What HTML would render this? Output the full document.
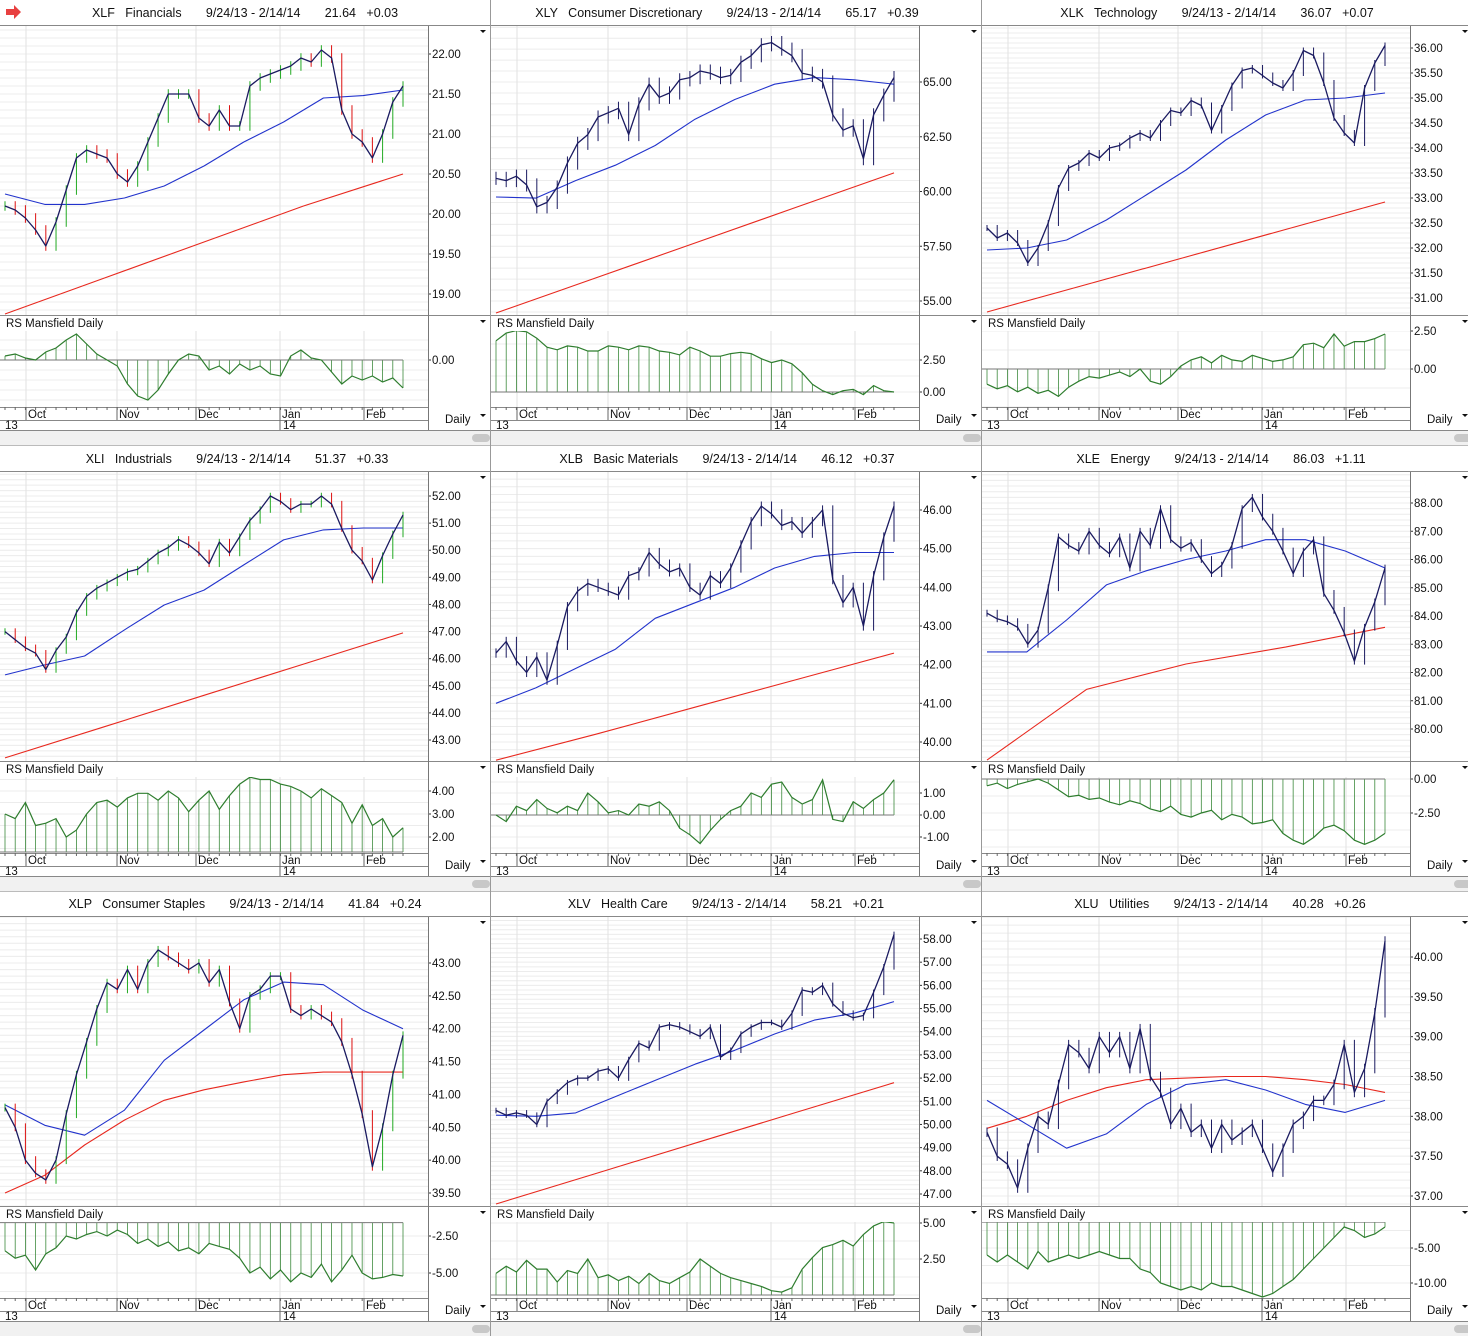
<!DOCTYPE html>
<html><head><meta charset="utf-8"><style>
html,body{margin:0;padding:0;background:#fff;width:1468px;height:1336px;overflow:hidden;}
svg{display:block;font-family:"Liberation Sans",sans-serif;}
.pre{white-space:pre;}
</style></head><body>
<svg id="root" width="1468" height="1336" viewBox="0 0 1468 1336" xmlns="http://www.w3.org/2000/svg">
<rect x="0" y="0" width="1468" height="1336" fill="#fff"/>
<path d="M6,9 h8 v-4 l7,7 l-7,7 v-4 h-8z" fill="#e84040"/>
</svg>
<script>
// ===== data arrays =====
const monthLabels = ["Oct","Nov","Dec","Jan","Feb"];
const monthDayIdx = [27,118,197,281,365];
const yearLabels = ["13","14"];

const xlfPrice=[20.1,20.05,19.95,19.8,19.6,19.9,20.3,20.7,20.8,20.75,20.7,20.5,20.4,20.6,20.9,21.2,21.5,21.5,21.5,21.2,21.1,21.3,21.1,21.1,21.6,21.7,21.75,21.8,21.85,21.95,21.9,22.05,21.95,21.3,21.0,20.9,20.7,21.0,21.4,21.6];
const xlfMa50=[20.25,20.12,20.12,20.2,20.35,20.6,20.9,21.15,21.45,21.48,21.55];
const xlfMa200=[18.75,19.2,19.65,20.1,20.5];
const xlfRs=[0.2,0.3,0.1,0.0,0.4,0.6,1.0,1.3,0.8,0.3,0.0,-0.3,-1.2,-1.8,-2.0,-1.5,-0.7,0,0.3,0.2,-0.5,-0.3,-0.7,-0.2,-0.5,-0.3,-0.7,-0.8,0.2,0.5,0.1,0.0,-0.6,-1.2,-0.8,-1.0,-0.8,-1.1,-0.9,-1.4];
const xlfTicks=[19,19.5,20,20.5,21,21.5,22];
const xlfRsTicks=[0];

const xlyPrice=[60.6,60.5,60.7,60.3,59.3,59.5,60.2,61.3,62.2,62.6,63.4,63.6,63.8,62.6,64.0,64.9,64.3,64.5,65.1,65.2,65.5,65.4,65.2,65.3,65.9,66.2,66.7,66.8,66.5,66.2,65.4,65.3,65.0,63.5,62.8,63.0,61.5,63.5,64.4,65.2];
const xlyMa50=[59.75,59.7,60.5,61.2,62.1,63.3,64.2,64.9,65.2,65.1,64.9];
const xlyMa200=[54.45,56.05,57.65,59.25,60.85];
const xlyRs=[4.0,4.6,4.8,4.7,4.2,3.5,3.3,3.6,3.5,3.2,3.2,3.6,3.5,3.3,3.6,3.5,3.2,3.1,2.9,3.5,3.2,2.8,2.8,3.0,3.1,3.0,2.6,2.3,2.5,2.2,1.5,0.6,0.1,-0.2,0.1,0.2,-0.2,0.5,0.1,0.0];
const xlyTicks=[55,57.5,60,62.5,65];
const xlyRsTicks=[2.5,0];

const xlkPrice=[32.4,32.2,32.3,32.1,31.7,32.0,32.5,33.2,33.6,33.7,33.9,33.8,34.0,34.05,34.2,34.3,34.2,34.5,34.75,34.7,34.95,34.85,34.35,34.8,35.25,35.55,35.6,35.45,35.3,35.2,35.5,35.95,35.85,35.3,34.6,34.3,34.1,35.2,35.7,36.05];
const xlkMa50=[31.96,32.0,32.16,32.56,33.06,33.56,34.16,34.66,34.96,35.0,35.1];
const xlkMa200=[30.72,31.27,31.82,32.37,32.92];
const xlkRs=[-1.0,-1.3,-1.1,-1.5,-1.2,-1.6,-1.4,-1.8,-1.2,-0.8,-0.5,-0.6,-0.4,-0.2,-0.5,0.0,-0.8,-1.0,-0.5,0.2,0.6,0.8,0.4,0.9,0.6,0.5,0.9,0.7,0.5,0.6,0.8,1.6,1.7,1.4,2.3,1.5,1.8,1.8,2.0,2.3];
const xlkTicks=[31,31.5,32,32.5,33,33.5,34,34.5,35,35.5,36];
const xlkRsTicks=[2.5,0];

const xliPrice=[47.0,46.7,46.4,46.2,45.6,46.3,46.8,47.7,48.3,48.6,48.8,49.0,49.2,49.3,49.6,49.9,50.1,50.4,50.2,49.9,49.5,50.3,49.9,50.5,51.1,51.5,52.0,51.8,51.5,51.7,51.7,52.0,51.7,50.8,50.0,49.6,48.9,49.8,50.6,51.3];
const xliMa50=[45.4,45.77,46.1,47.06,47.98,48.53,49.46,50.38,50.75,50.82,50.82];
const xliMa200=[42.34,43.49,44.65,45.8,46.95];
const xliRs=[3.0,2.8,3.5,2.5,2.6,2.8,2.0,2.3,3.0,3.5,3.6,3.3,3.7,3.9,3.9,3.6,4.0,3.7,3.1,3.6,4.0,3.2,3.8,4.3,4.6,4.5,4.5,4.3,4.2,4.0,3.7,4.1,3.8,3.5,2.6,3.4,2.5,2.8,2.0,2.4];
const xliTicks=[43,44,45,46,47,48,49,50,51,52];
const xliRsTicks=[4,3,2];

const xlbPrice=[42.3,42.6,42.1,41.8,42.2,41.6,42.5,43.5,43.9,44.1,44.0,43.9,43.8,44.3,44.4,44.9,44.6,44.4,44.5,44.0,43.8,44.3,44.1,44.5,45.1,45.7,46.1,45.9,45.6,45.7,45.4,45.7,46.0,44.2,43.6,44.0,43.0,44.3,45.3,46.1];
const xlbMa50=[41.0,41.4,41.9,42.4,43.2,43.6,44.0,44.5,44.8,44.9,44.9];
const xlbMa200=[39.53,40.2,40.9,41.6,42.3];
const xlbRs=[0.0,-0.3,0.4,0.2,0.7,0.3,0.1,0.4,0.2,1.0,0.6,0.1,0.2,0.0,0.5,0.4,0.6,0.2,-0.6,-0.9,-1.3,-0.7,-0.2,0.2,0.4,1.0,0.8,1.4,1.5,0.8,0.5,0.7,1.6,-0.2,-0.3,0.6,0.3,0.7,1.0,1.6];
const xlbTicks=[40,41,42,43,44,45,46];
const xlbRsTicks=[1,0,-1];

const xlePrice=[84.1,83.9,83.8,83.6,83.0,83.5,85.0,86.8,86.5,86.3,87.0,86.5,86.2,86.8,85.7,87.0,86.5,87.8,86.7,86.4,86.6,86.0,85.5,85.8,86.5,87.8,88.2,87.5,87.0,86.3,85.5,86.3,86.7,84.8,84.2,83.4,82.4,83.6,84.5,85.7];
const xleMa50=[82.73,82.73,83.86,85.1,85.6,86.0,86.3,86.7,86.7,86.3,85.7];
const xleMa200=[78.9,81.4,82.3,82.9,83.6];
const xleRs=[-0.5,-0.3,-0.7,-0.4,-0.2,0.0,-0.3,-0.8,-1.3,-1.2,-1.5,-1.4,-1.7,-1.9,-1.6,-1.8,-2.2,-2.4,-2.0,-2.6,-2.8,-2.5,-2.3,-3.0,-2.6,-2.8,-3.3,-3.2,-3.0,-4.0,-4.5,-4.8,-4.3,-3.6,-3.4,-3.8,-4.5,-4.8,-4.5,-4.0];
const xleTicks=[80,81,82,83,84,85,86,87,88];
const xleRsTicks=[0,-2.5];

const xlpPrice=[40.8,40.5,40.0,39.8,39.7,40.0,40.7,41.3,41.8,42.3,42.7,42.6,42.9,42.6,43.0,43.2,43.1,43.0,42.9,43.0,42.7,42.9,42.4,42.0,42.5,42.6,42.8,42.8,42.3,42.2,42.3,42.2,42.1,41.8,41.3,40.7,39.9,40.5,41.3,41.9];
const xlpMa50=[40.84,40.53,40.38,40.76,41.52,41.98,42.44,42.71,42.67,42.28,42.0];
const xlpMa200=[39.5,39.77,40.23,40.61,40.91,41.07,41.19,41.3,41.34,41.34,41.34];
const xlpRs=[-3.5,-4.0,-3.8,-4.8,-3.7,-3.3,-2.5,-2.7,-2.4,-2.2,-2.5,-2.1,-2.4,-3.0,-2.7,-3.2,-2.9,-3.5,-3.3,-3.7,-3.0,-3.2,-3.4,-4.0,-5.0,-4.6,-5.4,-4.8,-5.6,-5.0,-5.3,-4.4,-5.6,-4.8,-3.8,-5.0,-5.4,-5.3,-5.1,-5.2];
const xlpTicks=[39.5,40,40.5,41,41.5,42,42.5,43];
const xlpRsTicks=[-2.5,-5];

const xlvPrice=[50.6,50.4,50.5,50.4,50.0,51.0,51.4,51.8,52.0,52.0,52.3,52.4,52.0,52.8,53.5,53.3,54.2,54.3,54.2,54.0,53.8,54.2,52.9,53.2,53.9,54.2,54.4,54.4,54.2,54.8,55.8,55.7,56.0,55.2,54.8,54.6,54.7,55.7,56.8,58.2];
const xlvMa50=[50.4,50.35,50.5,51.2,51.9,52.6,53.2,53.9,54.5,54.8,55.3];
const xlvMa200=[46.57,47.88,49.19,50.5,51.8];
const xlvRs=[1.5,2.0,1.6,2.4,1.8,1.8,0.9,1.7,1.5,2.5,1.2,1.4,1.0,1.3,0.8,1.5,1.0,0.8,1.2,1.6,2.5,2.0,1.5,1.2,1.0,0.8,0.6,0.3,0.2,0.5,1.8,2.6,3.3,3.5,3.8,3.4,4.2,4.8,5.1,5.0];
const xlvTicks=[47,48,49,50,51,52,53,54,55,56,57,58];
const xlvRsTicks=[5,2.5];

const xluPrice=[37.8,37.5,37.4,37.1,37.6,38.0,37.9,38.4,38.9,38.8,38.6,39.0,38.8,39.0,38.6,39.1,38.5,38.3,37.9,38.1,37.8,37.9,37.6,37.9,37.7,37.8,37.9,37.6,37.3,37.6,37.9,38.0,38.2,38.2,38.4,38.9,38.3,38.6,39.3,40.2];
const xluMa50=[38.2,37.9,37.6,37.78,38.15,38.4,38.46,38.33,38.15,38.05,38.2];
const xluMa200=[37.85,38.0,38.2,38.36,38.46,38.48,38.5,38.5,38.46,38.4,38.3];
const xluRs=[-6,-7,-6,-7,-8,-5.5,-7,-6.5,-6,-6.5,-6,-5.5,-6,-6.5,-6.5,-8,-8.5,-10,-10.5,-11,-10.5,-11,-10,-10.5,-10.5,-11,-11.5,-12,-11.5,-10.5,-9.5,-8,-6.5,-5,-3.5,-2,-2.5,-3.5,-3,-2];
const xluTicks=[37,37.5,38,38.5,39,39.5,40];
const xluRsTicks=[-5,-10];

// ===== panel definitions (axes config) =====
const panels=[
 {id:"xlf",col:0,row:0,ticker:"XLF",name:"Financials",last:"21.64",chg:"+0.03",cx:245,ohlc:true,price:xlfPrice,ma50:xlfMa50,ma200:xlfMa200,rs:xlfRs,ticks:xlfTicks,rsTicks:xlfRsTicks,pa:[22,54,19,294],ra:[0,360,1,340],base:0},
 {id:"xly",col:1,row:0,ticker:"XLY",name:"Consumer Discretionary",last:"65.17",chg:"+0.39",cx:236,ohlc:false,price:xlyPrice,ma50:xlyMa50,ma200:xlyMa200,rs:xlyRs,ticks:xlyTicks,rsTicks:xlyRsTicks,pa:[65,82,55,301],ra:[2.5,360,0,392],base:0},
 {id:"xlk",col:2,row:0,ticker:"XLK",name:"Technology",last:"36.07",chg:"+0.07",cx:235,ohlc:false,price:xlkPrice,ma50:xlkMa50,ma200:xlkMa200,rs:xlkRs,ticks:xlkTicks,rsTicks:xlkRsTicks,pa:[36,48,31,298],ra:[2.5,331,0,369],base:0},
 {id:"xli",col:0,row:1,ticker:"XLI",name:"Industrials",last:"51.37",chg:"+0.33",cx:237,ohlc:true,price:xliPrice,ma50:xliMa50,ma200:xliMa200,rs:xliRs,ticks:xliTicks,rsTicks:xliRsTicks,pa:[52,50,43,294],ra:[4,345,2,391],base:1.35},
 {id:"xlb",col:1,row:1,ticker:"XLB",name:"Basic Materials",last:"46.12",chg:"+0.37",cx:236,ohlc:false,price:xlbPrice,ma50:xlbMa50,ma200:xlbMa200,rs:xlbRs,ticks:xlbTicks,rsTicks:xlbRsTicks,pa:[46,64,40,296],ra:[1,347,-1,391],base:0},
 {id:"xle",col:2,row:1,ticker:"XLE",name:"Energy",last:"86.03",chg:"+1.11",cx:239,ohlc:false,price:xlePrice,ma50:xleMa50,ma200:xleMa200,rs:xleRs,ticks:xleTicks,rsTicks:xleRsTicks,pa:[88,57,80,283],ra:[0,333,-2.5,367],base:0},
 {id:"xlp",col:0,row:2,ticker:"XLP",name:"Consumer Staples",last:"41.84",chg:"+0.24",cx:245,ohlc:true,price:xlpPrice,ma50:xlpMa50,ma200:xlpMa200,rs:xlpRs,ticks:xlpTicks,rsTicks:xlpRsTicks,pa:[43,72,39.5,302],ra:[-2.5,345,-5,382],base:-1.6},
 {id:"xlv",col:1,row:2,ticker:"XLV",name:"Health Care",last:"58.21",chg:"+0.21",cx:235,ohlc:false,price:xlvPrice,ma50:xlvMa50,ma200:xlvMa200,rs:xlvRs,ticks:xlvTicks,rsTicks:xlvRsTicks,pa:[58,48,47,303],ra:[5,332,2.5,368],base:0},
 {id:"xlu",col:2,row:2,ticker:"XLU",name:"Utilities",last:"40.28",chg:"+0.26",cx:238,ohlc:false,price:xluPrice,ma50:xluMa50,ma200:xluMa200,rs:xluRs,ticks:xluTicks,rsTicks:xluRsTicks,pa:[40,66,37,305],ra:[-5,357,-10,392],base:-1.3}
];

const NS="http://www.w3.org/2000/svg";
const root=document.getElementById('root');
function mk(tag,attrs,parent){const e=document.createElementNS(NS,tag);for(const k in attrs)e.setAttribute(k,attrs[k]);(parent||root).appendChild(e);return e;}
function fmt(v){return v.toFixed(2);}

const colX=[0,491,982], rowY=[0,446,891];
const X0=5,X1=403,PW=428;

panels.forEach(p=>{
  const ox=colX[p.col], oy=rowY[p.row];
  const g=mk('g',{transform:`translate(${ox},${oy})`});
  
  
  const py=v=>p.pa[1]+(v-p.pa[0])*(p.pa[3]-p.pa[1])/(p.pa[2]-p.pa[0]);
  const ry=v=>p.ra[1]+(v-p.ra[0])*(p.ra[3]-p.ra[1])/(p.ra[2]-p.ra[0]);
  const xs=(i,n)=>X0+i*(X1-X0)/(n-1);
  const clipP='cp'+p.id, clipR='cr'+p.id;
  const defs=mk('defs',{},g);
  const c1=mk('clipPath',{id:clipP},defs); mk('rect',{x:0,y:26,width:PW,height:289},c1);
  const c2=mk('clipPath',{id:clipR},defs); mk('rect',{x:0,y:331,width:PW,height:76},c2);

  // title
  const t=mk('text',{x:p.cx,y:17,'font-size':12.5,'text-anchor':'middle',fill:'#111','class':'pre'},g);
  t.textContent=`${p.ticker}   ${p.name}       9/24/13 - 2/14/14       ${p.last}   ${p.chg}`;
  
  

  // grid price
  const step=p.ticks[1]-p.ticks[0];
  const gg=mk('g',{'clip-path':`url(#${clipP})`},g);
  for(let v=p.ticks[0]-step*2;v<=p.ticks[p.ticks.length-1]+step*2+1e-9;v+=step/5){
    const y=py(v); mk('line',{x1:0,x2:PW,y1:y,y2:y,stroke:'#ececec','stroke-width':1},gg);
  }
  monthDayIdx.forEach(mx=>mk('line',{x1:mx-1,x2:mx-1,y1:26,y2:315,stroke:'#e2e2e2'},g));
  // RS grid
  const rstep=p.rsTicks.length>1?Math.abs(p.rsTicks[0]-p.rsTicks[1]):1;
  const rg=mk('g',{'clip-path':`url(#${clipR})`},g);
  for(let k=-20;k<=20;k++){const v=p.rsTicks[0]+k*rstep/2;const y=ry(v);mk('line',{x1:0,x2:PW,y1:y,y2:y,stroke:'#ececec'},rg);}
  monthDayIdx.forEach(mx=>mk('line',{x1:mx-1,x2:mx-1,y1:331,y2:407,stroke:'#e2e2e2'},g));

  // price series
  const pg=mk('g',{'clip-path':`url(#${clipP})`},g);
  const n=p.price.length;
  const line=(arr,color,w,name)=>{
    const d=arr.map((v,i)=>(i?'L':'M')+xs(i,arr.length).toFixed(1)+','+py(v).toFixed(1)).join(' ');
    const e=mk('path',{d:d,fill:'none',stroke:color,'stroke-width':w,'stroke-linejoin':'round'},pg);
    
    
  };
  line(p.ma200,'#e8281e',1.1,p.id+'-ma200-line');
  line(p.ma50,'#2233cc',1.1,p.id+'-ma50-line');
  p.price.forEach((v,i)=>{
    const prev=i?p.price[i-1]:v;
    const hi=Math.max(v,prev)+step*0.12, lo=Math.min(v,prev)-step*0.12;
    const col=p.ohlc?(v>=prev?'#22aa22':'#dd1111'):'#1a1a60';
    const b=mk('line',{x1:xs(i,n),x2:xs(i,n),y1:py(hi),y2:py(lo),stroke:col,'stroke-width':1},pg);
    
    
  });
  line(p.price,'#1a1a60',1.3,p.id+'-price-line');

  // price axis labels
  p.ticks.forEach(v=>{
    const y=py(v);
    mk('line',{x1:PW,x2:PW+3,y1:y,y2:y,stroke:'#333'},g);
    const tl=mk('text',{x:PW+4,y:y+4,'font-size':11.5,fill:'#111'},g);
    tl.textContent=fmt(v);
    
    
  });

  // RS
  const rsg=mk('g',{'clip-path':`url(#${clipR})`},g);
  const bY=ry(p.base);
  p.rs.forEach((v,i)=>{
    const h=mk('line',{x1:xs(i,n),x2:xs(i,n),y1:bY,y2:ry(v),stroke:'#3c8a3c','stroke-width':0.8},rsg);
    
    
  });
  mk('line',{x1:0,x2:X1,y1:bY,y2:bY,stroke:'#777'},rsg);
  const rd=p.rs.map((v,i)=>(i?'L':'M')+xs(i,n).toFixed(1)+','+ry(v).toFixed(1)).join(' ');
  const rl=mk('path',{d:rd,fill:'none',stroke:'#2e7d2e','stroke-width':1.2},rsg);
  
  
  p.rsTicks.forEach(v=>{
    const y=ry(v);
    mk('line',{x1:PW,x2:PW+3,y1:y,y2:y,stroke:'#333'},g);
    const tl=mk('text',{x:PW+4,y:y+4,'font-size':11.5,fill:'#111'},g);
    tl.textContent=fmt(v);
    
    
  });
  const rsl=mk('text',{x:6,y:327,'font-size':11.5,fill:'#111'},g);
  rsl.textContent='RS Mansfield Daily';
  
  

  // frame lines
  mk('line',{x1:0,x2:490,y1:25.5,y2:25.5,stroke:'#888'},g);
  mk('line',{x1:0,x2:490,y1:315.5,y2:315.5,stroke:'#888'},g);
  mk('line',{x1:0,x2:PW,y1:407.5,y2:407.5,stroke:'#888'},g);
  mk('line',{x1:0,x2:PW,y1:420.5,y2:420.5,stroke:'#888'},g);
  mk('line',{x1:0,x2:490,y1:430.5,y2:430.5,stroke:'#888'},g);
  mk('line',{x1:PW+0.5,x2:PW+0.5,y1:26,y2:430,stroke:'#777'},g);
  // date axis ticks
  for(let i=0;i<n;i++){const x=xs(i,n);mk('line',{x1:x,x2:x,y1:407,y2:410,stroke:'#666'},g);}
  monthLabels.forEach((m,k)=>{
    const mx=monthDayIdx[k];
    mk('line',{x1:mx-1,x2:mx-1,y1:407,y2:420,stroke:'#666'},g);
    const ml=mk('text',{x:mx+1,y:418,'font-size':11.5,fill:'#111'},g);
    ml.textContent=m;
    
    
  });
  mk('line',{x1:280,x2:280,y1:420,y2:430,stroke:'#666'},g);
  [[5,yearLabels[0]],[283,yearLabels[1]]].forEach(([x,s])=>{
    const yl=mk('text',{x:x,y:429,'font-size':11.5,fill:'#111'},g);
    yl.textContent=s;
    
    
  });
  const dl=mk('text',{x:445,y:423,'font-size':11.5,fill:'#111'},g);
  dl.textContent='Daily';
  
  
  mk('path',{d:'M480,414 h6 l-3,3z',fill:'#111'},g);
  mk('path',{d:'M480,30 h6 l-3,3z',fill:'#111'},g);
  mk('path',{d:'M480,320 h6 l-3,3z',fill:'#111'},g);
  // scroll bar
  const sb=mk('rect',{x:0,y:431,width:490,height:14,fill:'#f1f1f1'},g);
  
  
  const th=mk('rect',{x:472,y:434,width:18,height:8,rx:4,fill:'#c8c8c8'},g);
  
  
  mk('line',{x1:0,x2:490,y1:445.5,y2:445.5,stroke:'#bbb'},g);
});
// panel separators
[490.5,981.5].forEach(x=>mk('line',{x1:x,x2:x,y1:0,y2:1336,stroke:'#999'}));
</script>
</body></html>
